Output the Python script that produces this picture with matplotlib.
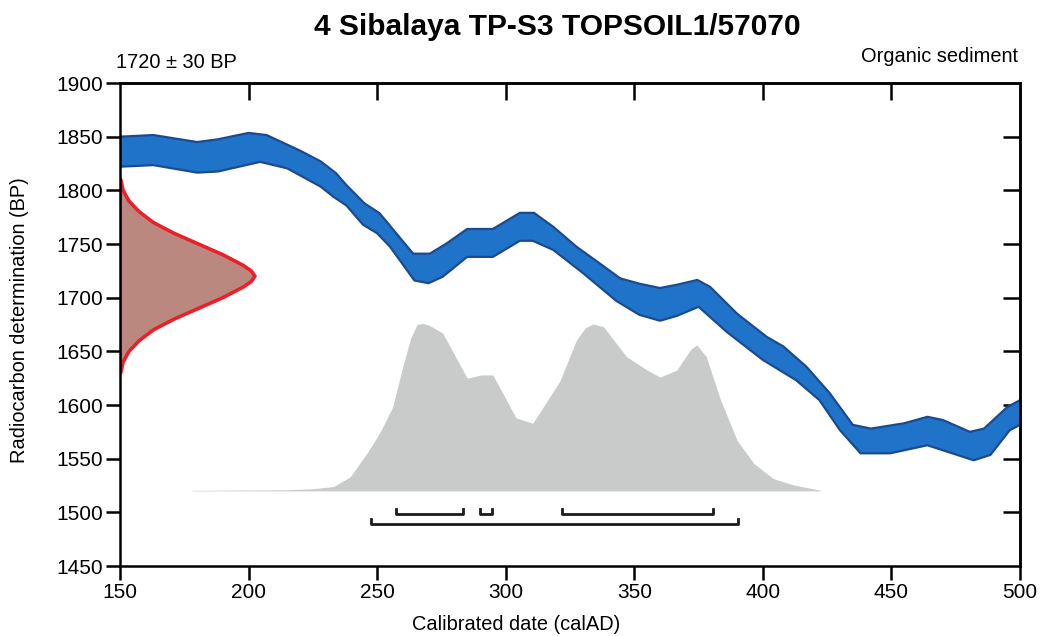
import matplotlib.pyplot as plt

plt.rcParams['font.family'] = ['Liberation Sans', 'DejaVu Sans']

# calibration curve band (calAD, BP) - upper and lower edges
cal_top_x = [150, 163, 180, 188, 200, 207, 220, 228, 234, 238, 245, 251, 264, 270.5, 277, 285, 295,
             305.5, 311, 318.5, 327.5, 336.5, 344.5, 352, 360, 366.5, 374.5, 379.5, 390, 401.5, 408,
             417, 426, 435, 442, 455, 464, 470, 480.5, 486, 495, 500]
cal_top_y = [1850, 1851.5, 1845, 1847.5, 1853.5, 1851.5, 1837, 1827, 1816, 1805, 1788, 1778.5, 1741, 1741,
             1750.5, 1764, 1764, 1779, 1779, 1766, 1747.5, 1732, 1718, 1713, 1709, 1712, 1716.5, 1710,
             1685, 1663.5, 1654.5, 1635.5, 1611, 1581.5, 1578, 1583, 1589, 1586, 1575, 1578, 1598, 1604.5]
cal_bot_x = [150, 163, 180, 188, 204.5, 215, 228, 233, 238, 244.5, 250, 255, 264.5, 270, 275.5, 285, 295,
             305.5, 310.5, 318.5, 330, 343, 352, 360, 366.5, 375, 386, 400, 413, 422, 430, 438, 449.5,
             464, 482, 488.5, 496, 500]
cal_bot_y = [1822, 1823.5, 1816.5, 1817.5, 1826.5, 1820.5, 1803.5, 1794, 1786, 1768, 1760, 1747.5, 1716,
             1713.5, 1719.5, 1738, 1738, 1753, 1753, 1744.5, 1723, 1697, 1684, 1678.5, 1683, 1691.5, 1668,
             1642, 1623, 1604.5, 1576.5, 1555, 1555, 1562.5, 1548.5, 1553.5, 1576.5, 1581.5]

# radiocarbon measurement 1720 +/- 30 BP, drawn on the y axis (BP, width in years)
c14_bp = [1810, 1800, 1790, 1780, 1770, 1760, 1750, 1740, 1730, 1725, 1720,
          1715, 1710, 1700, 1690, 1680, 1670, 1660, 1650, 1640, 1630]
c14_w = [0.3, 1.2, 3.5, 7.5, 13, 21, 30.5, 40, 48, 51, 52.5,
         51, 48, 40, 30.5, 21, 13, 7.5, 3.5, 1.2, 0.3]

# calibrated probability distribution (top edge in BP, base at 1520)
prob_base = 1520
prob_x = [178, 215, 225, 233, 239.5, 246, 251, 256, 260, 263, 265.5, 268, 270.5, 275.5, 285, 290.5, 295,
          304, 310.5, 321, 327.5, 331, 334, 338, 347, 355, 360, 366.5, 372, 374.3, 378, 383.5, 390,
          396.5, 404, 412, 422.5]
prob_y = [1520.5, 1521, 1522, 1524, 1533, 1555, 1574, 1598, 1636, 1662, 1675, 1676, 1674, 1667, 1625, 1628,
          1628, 1588, 1583, 1622, 1660.5, 1672, 1675.5, 1673, 1645, 1632.5, 1626, 1632.5, 1652, 1656, 1645,
          1605, 1567, 1545.5, 1531.5, 1525.5, 1520.5]

# 68.2% and 95.4% ranges (calAD)
range68 = [(257.5, 283.5), (290, 294.5), (322, 380.5)]
range95 = [(247.5, 390.5)]

fig = plt.figure(figsize=(10.43, 6.36), dpi=100)
ax = fig.add_axes([120 / 1043, 70 / 636, 900 / 1043, 483 / 636])

# probability distribution
ax.fill_between(prob_x, prob_base, prob_y, color='#c9cbcb', lw=0)

# calibration curve
band_x = cal_top_x + cal_bot_x[::-1]
band_y = cal_top_y + cal_bot_y[::-1]
ax.fill(band_x, band_y, facecolor='#1f74c9', edgecolor='#1b4b8e', lw=1.6, zorder=3,
        joinstyle='round')

# measurement
c14_x = [150 + w for w in c14_w]
ax.fill([150] + c14_x + [150], [1810] + c14_bp + [1630], facecolor='#bb8880', edgecolor='#e8222c',
        lw=2.6, zorder=4, joinstyle='round')

# range brackets
def bracket(x0, x1, y):
    ax.plot([x0, x0, x1, x1], [y + 5, y, y, y + 5], color='#1a1a1a', lw=2, zorder=5)

for a, b in range68:
    bracket(a, b, 1498)
for a, b in range95:
    bracket(a, b, 1489)

ax.set_xlim(150, 500)
ax.set_ylim(1450, 1900)
ax.set_xticks(range(150, 501, 50))
ax.set_yticks(range(1450, 1901, 50))
ax.tick_params(axis='both', direction='out', length=10, width=1.8, labelsize=15, pad=2)

top = ax.secondary_xaxis('top')
top.set_xticks(range(200, 451, 50))
top.tick_params(direction='in', length=12, width=1.8, labeltop=False)
top.spines['top'].set_linewidth(1.8)
right = ax.secondary_yaxis('right')
right.set_yticks(range(1500, 1851, 50))
right.tick_params(direction='in', length=12, width=1.8, labelright=False)
right.spines['right'].set_linewidth(1.8)

for s in ax.spines.values():
    s.set_linewidth(1.8)
    s.set_zorder(6)

fig.text(20 / 1043, 1 - 320 / 636, 'Radiocarbon determination (BP)', fontsize=14.4, rotation=90,
         ha='center', va='center')
fig.text(516 / 1043, 1 - 625 / 636, 'Calibrated date (calAD)', fontsize=14.4, ha='center', va='center')
fig.text(557 / 1043, 1 - 27 / 636, '4 Sibalaya TP-S3 TOPSOIL1/57070', fontsize=21.5,
         fontweight='bold', ha='center', va='center')
fig.text(116 / 1043, 1 - 62 / 636, '1720 ± 30 BP', fontsize=14.4, ha='left', va='center')
fig.text(1018 / 1043, 1 - 57 / 636, 'Organic sediment', fontsize=14.4, ha='right', va='center')

fig.savefig('out.png', dpi=100)
